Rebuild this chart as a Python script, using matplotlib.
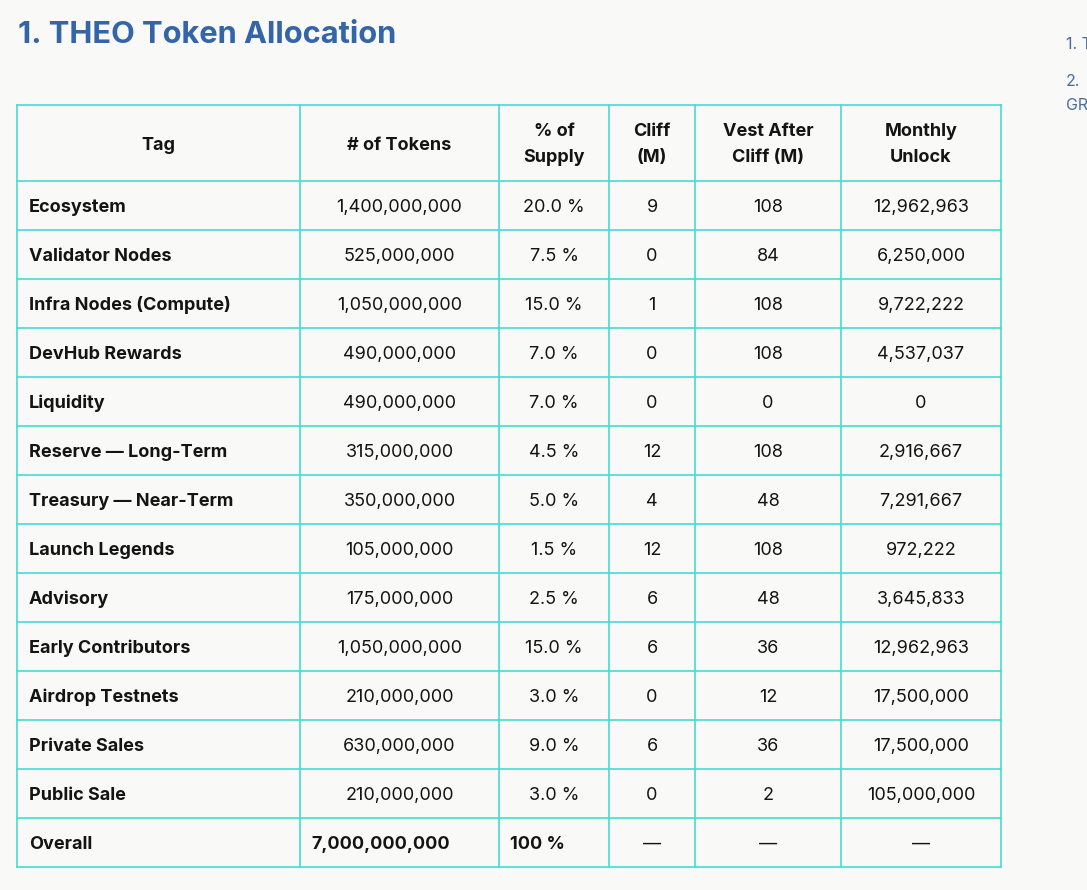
import matplotlib
matplotlib.use("Agg")
import matplotlib.pyplot as plt
from matplotlib.lines import Line2D

# ---- data ----
title = "1. THEO Token Allocation"
headers = ["Tag", "# of Tokens", "% of\nSupply", "Cliff\n(M)", "Vest After\nCliff (M)", "Monthly\nUnlock"]
tags = ["Ecosystem", "Validator Nodes", "Infra Nodes (Compute)", "DevHub Rewards", "Liquidity",
        "Reserve \u2014 Long-Term", "Treasury \u2014 Near-Term", "Launch Legends", "Advisory",
        "Early Contributors", "Airdrop Testnets", "Private Sales", "Public Sale"]
tokens = [1400000000, 525000000, 1050000000, 490000000, 490000000, 315000000, 350000000,
          105000000, 175000000, 1050000000, 210000000, 630000000, 210000000]
supply_pct = [20.0, 7.5, 15.0, 7.0, 7.0, 4.5, 5.0, 1.5, 2.5, 15.0, 3.0, 9.0, 3.0]
cliff_m = [9, 0, 1, 0, 0, 12, 4, 12, 6, 6, 0, 6, 0]
vest_m = [108, 84, 108, 108, 0, 108, 48, 108, 48, 36, 12, 36, 2]
monthly_unlock = [12962963, 6250000, 9722222, 4537037, 0, 2916667, 7291667, 972222,
                  3645833, 12962963, 17500000, 17500000, 105000000]
total_label = "Overall"
total_tokens = 7000000000
total_pct = "100 %"
side_items = ["1. T", "2.", "GR"]

# ---- layout ----
W, H = 1087, 890
fig = plt.figure(figsize=(W / 100, H / 100), dpi=100)
fig.patch.set_facecolor("#f9f9f8")
ax = fig.add_axes([0, 0, 1, 1])
ax.set_xlim(0, W)
ax.set_ylim(H, 0)
ax.axis("off")

FONT = "Inter"
txt_color = "#141414"
border = "#47dcd6"
fs = 13.0
BASE = 6.5  # baseline offset below row centre

ax.text(18, 35, title, fontsize=22.2, fontweight="bold", color="#3465a9",
        family=FONT, va="center", ha="left")

side_color = "#4a6ca5"
ax.text(1066, 49, side_items[0], fontsize=11.5, color=side_color, family=FONT, va="baseline", ha="left")
ax.text(1066, 86, side_items[1], fontsize=11.5, color=side_color, family=FONT, va="baseline", ha="left")
ax.text(1066, 110, side_items[2], fontsize=11.5, color=side_color, family=FONT, va="baseline", ha="left")

col_x = [17, 300, 499, 609, 695, 841, 1001]
row_top = 105
head_bot = 181
row_h = 49
n_rows = len(tags) + 1
row_y = [head_bot + i * row_h for i in range(n_rows + 1)]
bottom = row_y[-1]

# grid lines
for x in col_x:
    ax.add_line(Line2D([x, x], [row_top, bottom], color=border, lw=1.2))
for y in [row_top] + row_y:
    ax.add_line(Line2D([col_x[0], col_x[-1]], [y, y], color=border, lw=1.2))

def cx(i):
    return (col_x[i] + col_x[i + 1]) / 2

# headers
hc = (row_top + head_bot) / 2
for i, h in enumerate(headers):
    lines = h.split("\n")
    if len(lines) == 1:
        ax.text(cx(i), hc + BASE, h, fontsize=fs, fontweight="bold",
                color=txt_color, family=FONT, ha="center", va="baseline")
    else:
        for k, ln in enumerate(lines):
            ax.text(cx(i), hc - 13 + 26 * k + BASE, ln, fontsize=fs, fontweight="bold",
                    color=txt_color, family=FONT, ha="center", va="baseline")

# body rows
for r in range(len(tags)):
    yb = (row_y[r] + row_y[r + 1]) / 2 + BASE
    ax.text(col_x[0] + 12, yb, tags[r], fontsize=fs, fontweight="bold", color=txt_color,
            family=FONT, ha="left", va="baseline")
    vals = [f"{tokens[r]:,}", f"{supply_pct[r]:.1f} %", str(cliff_m[r]), str(vest_m[r]),
            f"{monthly_unlock[r]:,}"]
    for c, v in enumerate(vals, start=1):
        ax.text(cx(c), yb, v, fontsize=fs, color=txt_color, family=FONT, ha="center", va="baseline")

# total row
yb = (row_y[-2] + row_y[-1]) / 2 + BASE
ax.text(col_x[0] + 12, yb, total_label, fontsize=fs, fontweight="bold", color=txt_color,
        family=FONT, ha="left", va="baseline")
ax.text(col_x[1] + 11, yb, f"{total_tokens:,}", fontsize=fs, fontweight="bold", color=txt_color,
        family=FONT, ha="left", va="baseline")
ax.text(col_x[2] + 11, yb, total_pct, fontsize=fs, fontweight="bold", color=txt_color,
        family=FONT, ha="left", va="baseline")
for c in (3, 4, 5):
    ax.text(cx(c), yb, "\u2014", fontsize=fs, color=txt_color, family=FONT, ha="center", va="baseline")

fig.savefig("out.png", dpi=100, facecolor=fig.get_facecolor())
